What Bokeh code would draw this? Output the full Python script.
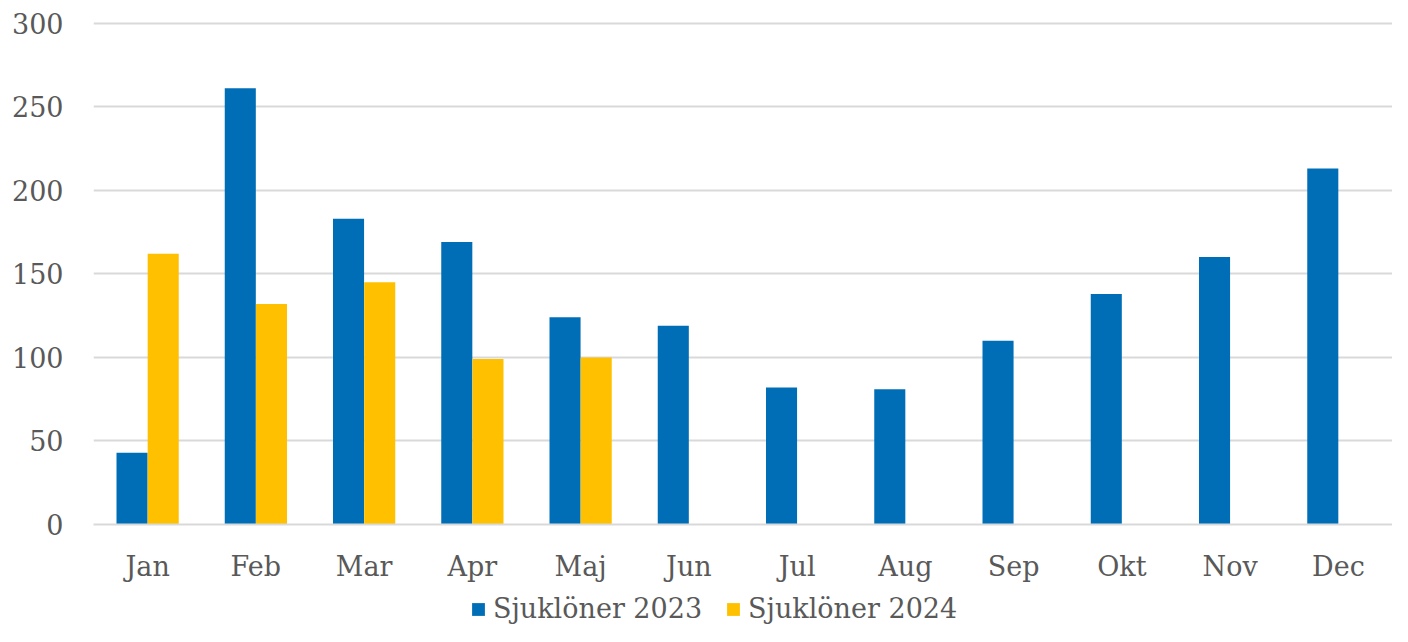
from bokeh.plotting import figure
from bokeh.layouts import column
from bokeh.models import ColumnDataSource, FactorRange, Range1d, Legend, LegendItem, FixedTicker
from bokeh.transform import dodge
from bokeh.embed import file_html
from bokeh.resources import INLINE

months = ["Jan", "Feb", "Mar", "Apr", "Maj", "Jun", "Jul", "Aug", "Sep", "Okt", "Nov", "Dec"]
sjuk_2023 = [43, 261, 183, 169, 124, 119, 82, 81, 110, 138, 160, 213]
sjuk_2024 = [162, 132, 145, 99, 100, None, None, None, None, None, None, None]
y_ticks = [0, 50, 100, 150, 200, 250, 300]
series_names = ["Sjuklöner 2023", "Sjuklöner 2024"]

src = ColumnDataSource(data=dict(
    month=months,
    s23=sjuk_2023,
    s24=[v if v is not None else float("nan") for v in sjuk_2024],
))

FONT = "DejaVu Serif"
TXT = "#595959"
GRID = "#d9d9d9"
BLUE = "#006EB7"
YELLOW = "#FFC000"

p = figure(x_range=FactorRange(*months, range_padding=0), y_range=Range1d(0, 301),
           width=1392, height=586, output_backend="svg", toolbar_location=None,
           min_border_left=93, min_border_right=0, min_border_top=21, min_border_bottom=62)
p.outline_line_color = None

p.vbar(x=dodge("month", -0.144, range=p.x_range), top="s23", width=0.287, source=src,
       fill_color=BLUE, line_color=None)
p.vbar(x=dodge("month", 0.144, range=p.x_range), top="s24", width=0.287, source=src,
       fill_color=YELLOW, line_color=None)

p.xgrid.grid_line_color = None
p.ygrid.grid_line_color = GRID
p.ygrid.grid_line_width = 2
p.yaxis.ticker = FixedTicker(ticks=y_ticks)

for ax in (p.xaxis, p.yaxis):
    ax.major_tick_line_color = None
    ax.minor_tick_line_color = None
    ax.major_label_text_font = FONT
    ax.major_label_text_font_size = "27px"
    ax.major_label_text_color = TXT
p.yaxis.axis_line_color = None
p.xaxis.axis_line_color = GRID
p.xaxis.axis_line_width = 2
p.yaxis.major_label_standoff = 24
p.xaxis.major_label_standoff = 20

# legend strip below the chart
lg = figure(x_range=Range1d(0, 1), y_range=Range1d(0, 1), width=1392, height=40,
            output_backend="svg", toolbar_location=None, min_border=0)
lg.outline_line_color = None
lg.axis.visible = False
lg.grid.grid_line_color = None
d23 = lg.vbar(x=[5], top=[5], width=0.1, fill_color=BLUE, line_color=None)
d24 = lg.vbar(x=[5], top=[5], width=0.1, fill_color=YELLOW, line_color=None)

legend = Legend(items=[LegendItem(label=series_names[0], renderers=[d23]),
                       LegendItem(label=series_names[1], renderers=[d24])],
                orientation="horizontal", location=(377, 2),
                label_text_font=FONT, label_text_font_size="27px", label_text_color=TXT,
                glyph_width=16, glyph_height=16, spacing=23, label_standoff=7,
                border_line_color=None, background_fill_alpha=0, padding=0, margin=0)
lg.add_layout(legend, "center")

layout = column(p, lg, spacing=0)
open("out.html", "w").write(file_html(layout, INLINE))
